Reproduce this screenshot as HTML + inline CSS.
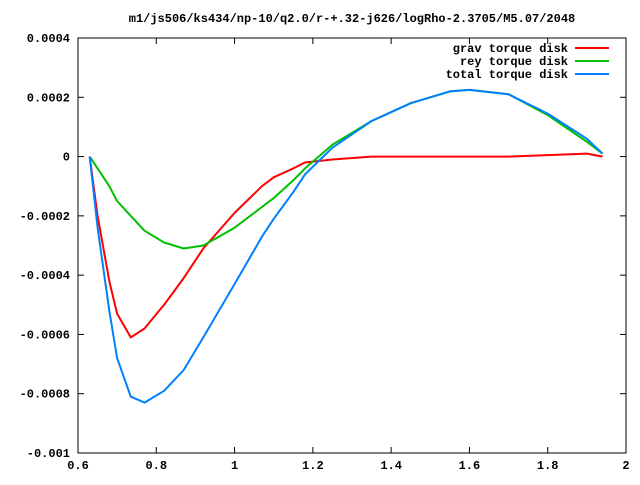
<!DOCTYPE html>
<html><head><meta charset="utf-8"><style>
body{margin:0;background:#fff}
svg text{font-family:"Liberation Mono","DejaVu Sans Mono",monospace;font-size:12px;font-weight:bold;fill:#000}
</style></head><body>
<svg id="c" width="640" height="480" xmlns="http://www.w3.org/2000/svg">
<rect width="640" height="480" fill="#fff"/>
<text x="352" y="22" text-anchor="middle">m1/js506/ks434/np-10/q2.0/r-+.32-j626/logRho-2.3705/M5.07/2048</text>
<g id="axes"></g><g id="series"></g><g id="legend"></g>
</svg>
<script>
const xs=[0.63,0.65,0.68,0.70,0.735,0.77,0.82,0.87,0.92,1.0,1.07,1.1,1.15,1.18,1.25,1.35,1.45,1.55,1.6,1.7,1.8,1.9,1.94];
const grav=[0,-0.0002,-0.00042,-0.00053,-0.00061,-0.00058,-0.0005,-0.00041,-0.00031,-0.00019,-0.0001,-0.00007,-0.00004,-0.00002,-0.00001,0,0,0,0,0,0.000005,0.00001,0];
const rey=[0,-0.00004,-0.0001,-0.00015,-0.0002,-0.00025,-0.00029,-0.00031,-0.0003,-0.00024,-0.00017,-0.00014,-0.00008,-0.00004,0.00004,0.00012,0.00018,0.00022,0.000225,0.00021,0.00014,0.00005,0.00001];
const total=[0,-0.00024,-0.00052,-0.00068,-0.00081,-0.00083,-0.00079,-0.00072,-0.00061,-0.00043,-0.00027,-0.00021,-0.00012,-0.00006,0.00003,0.00012,0.00018,0.00022,0.000225,0.00021,0.000145,0.00006,0.00001];
const xTicks=[0.6,0.8,1,1.2,1.4,1.6,1.8,2];
const xTickLabels=["0.6","0.8","1","1.2","1.4","1.6","1.8","2"];
const yTicks=[0.0004,0.0002,0,-0.0002,-0.0004,-0.0006,-0.0008,-0.001];
const yTickLabels=["0.0004","0.0002","0","-0.0002","-0.0004","-0.0006","-0.0008","-0.001"];
const L=78,R=626,T=38,B=453;
const sx=v=>L+(v-0.6)/(2-0.6)*(R-L);
const sy=v=>T+(0.0004-v)/(0.0014)*(B-T);
const NS="http://www.w3.org/2000/svg";
function mk(t,a,p){const e=document.createElementNS(NS,t);for(const k in a)e.setAttribute(k,a[k]);p.appendChild(e);return e;}
const ax=document.getElementById('axes');
const frame=mk('rect',{x:L,y:T,width:R-L,height:B-T,fill:'none',stroke:'#000','stroke-width':1},ax);


xTicks.forEach((v,i)=>{const x=sx(v);
mk('line',{x1:x,y1:B,x2:x,y2:B-6,stroke:'#000'},ax);mk('line',{x1:x,y1:T,x2:x,y2:T+6,stroke:'#000'},ax);
const t=mk('text',{x:x,y:B+16,'text-anchor':'middle'},ax);t.textContent=xTickLabels[i];

});
yTicks.forEach((v,i)=>{const y=sy(v);
mk('line',{x1:L,y1:y,x2:L+6,y2:y,stroke:'#000'},ax);mk('line',{x1:R,y1:y,x2:R-6,y2:y,stroke:'#000'},ax);
const t=mk('text',{x:L-8,y:y+4,'text-anchor':'end'},ax);t.textContent=yTickLabels[i];

});
const sg=document.getElementById('series');
const series=[["grav torque disk",grav,"#ff0000","grav-series"],["rey torque disk",rey,"#00c000","rey-series"],["total torque disk",total,"#0080ff","total-series"]];
series.forEach((s,k)=>{
const pts=xs.map((x,i)=>sx(x).toFixed(1)+','+sy(s[1][i]).toFixed(1)).join(' ');
const p=mk('polyline',{points:pts,fill:'none',stroke:s[2],'stroke-width':2,'stroke-linejoin':'round'},sg);


const lg=document.getElementById('legend');const y=48+k*13;
const t=mk('text',{x:568,y:y+4,'text-anchor':'end'},lg);t.textContent=s[0];


const l=mk('line',{x1:575,y1:y,x2:609,y2:y,stroke:s[2],'stroke-width':2},lg);


});
</script>
</body></html>
